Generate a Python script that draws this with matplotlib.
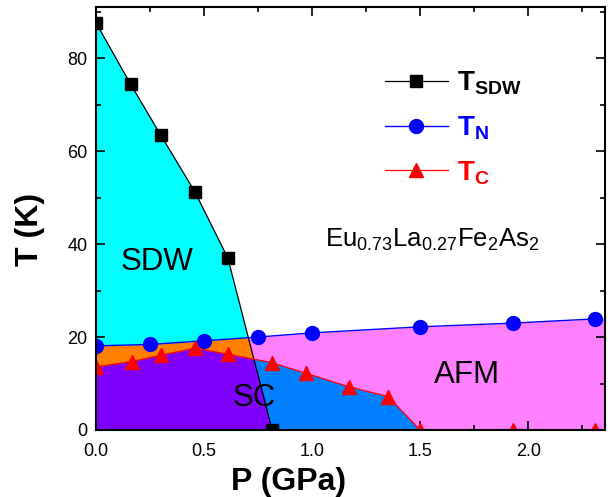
import numpy as np
import matplotlib
matplotlib.use("Agg")
import matplotlib.pyplot as plt

# phase diagram of Eu0.73La0.27Fe2As2 under pressure
p_sdw = [0.0, 0.16, 0.30, 0.458, 0.61, 0.815]
t_sdw = [87.6, 74.4, 63.4, 51.2, 37.0, 0.0]

p_n = [0.0, 0.25, 0.50, 0.75, 1.0, 1.50, 1.93, 2.31]
t_n = [18.1, 18.4, 19.2, 20.0, 20.9, 22.2, 23.0, 23.9]

p_c = [0.0, 0.165, 0.30, 0.46, 0.61, 0.813, 0.97, 1.17, 1.35, 1.50, 1.93, 2.31]
t_c = [13.6, 14.7, 16.1, 17.6, 16.3, 14.5, 12.2, 9.3, 7.2, 0.0, 0.0, 0.0]

xmax, ymax = 2.355, 91

plt.rcParams['font.family'] = ['Liberation Sans', 'DejaVu Sans']
plt.rcParams['mathtext.fontset'] = 'custom'
plt.rcParams['mathtext.rm'] = 'Liberation Sans'
plt.rcParams['mathtext.it'] = 'Liberation Sans:italic'
plt.rcParams['mathtext.bf'] = 'Liberation Sans:bold'

fig = plt.figure(figsize=(6.1, 4.97), dpi=100)
ax = fig.add_axes([96 / 610, 67 / 497, 509 / 610, 423 / 497])

# region fills, layered; SDW polygon also used as a clip path
ax.fill_between(np.append(p_n, xmax + 0.1), np.append(t_n, t_n[-1]), color='#FF80FF', lw=0, zorder=0.5)
sdw = ax.fill(np.append(p_sdw, 0.0), np.append(t_sdw, 0.0), color='#00FFFF', lw=0, zorder=1)[0]
orange = ax.fill_between(p_n, t_n, color='#FF8000', lw=0, zorder=2)
orange.set_clip_path(sdw)
ax.fill_between(p_c, t_c, color='#0080FF', lw=0, zorder=3)
purple = ax.fill_between(p_c, t_c, color='#8000FF', lw=0, zorder=4)
purple.set_clip_path(sdw)

ax.plot(p_sdw, t_sdw, color='black', lw=0.9, marker='s', ms=8.5, zorder=6,
        label=r'$\mathbf{T_{SDW}}$')
ax.plot(p_n, t_n, color='#0000FF', lw=1.0, marker='o', ms=10, zorder=6,
        label=r'$\mathbf{T_{N}}$')
ax.plot(p_c, t_c, color='#FF0000', lw=0.9, marker='^', ms=10.5, zorder=6,
        label=r'$\mathbf{T_{C}}$')

ax.text(0.282, 36.1, 'SDW', fontsize=22.5, ha='center', va='center', zorder=7)
ax.text(0.731, 6.9, 'SC', fontsize=22.5, ha='center', va='center', zorder=7)
ax.text(1.718, 11.8, 'AFM', fontsize=22.5, ha='center', va='center', zorder=7)
ax.text(1.06, 39.4, r'Eu$_{0.73}$La$_{0.27}$Fe$_2$As$_2$', fontsize=18.5,
        ha='left', va='baseline', zorder=7)

leg = ax.legend(loc='upper left', bbox_to_anchor=(0.545, 0.878), frameon=False,
                fontsize=20, handlelength=2.3, handletextpad=0.3, labelspacing=0.62,
                labelcolor='linecolor', numpoints=1, borderaxespad=0)

ax.set_xlim(0, xmax)
ax.set_ylim(0, ymax)
ax.set_xticks([0.0, 0.5, 1.0, 1.5, 2.0])
ax.set_xticks(np.arange(0.25, 2.3, 0.5), minor=True)
ax.set_yticks([0, 20, 40, 60, 80])
ax.set_yticks([10, 30, 50, 70, 90], minor=True)
ax.xaxis.set_major_formatter(plt.FormatStrFormatter('%.1f'))

ax.tick_params(which='both', direction='in', top=True, right=True, width=1.2, labelsize=13)
ax.tick_params(which='major', length=6.5)
ax.tick_params(axis='x', which='major', pad=9)
ax.tick_params(axis='y', which='major', pad=6)
ax.tick_params(which='minor', length=3.5)
for s in ax.spines.values():
    s.set_linewidth(1.5)
    s.set_zorder(10)

ax.set_xlabel('P (GPa)', fontsize=23, fontweight='bold')
ax.set_ylabel('T (K)', fontsize=23, fontweight='bold')
ax.xaxis.set_label_coords(0.379, -0.087)
ax.yaxis.set_label_coords(-0.10, 0.475)

fig.savefig('out.png', dpi=100)
